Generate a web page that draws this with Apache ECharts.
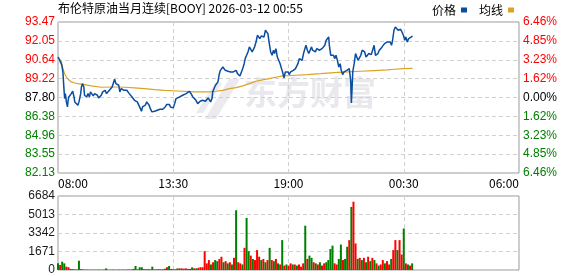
<!DOCTYPE html>
<html><head><meta charset="utf-8">
<script src="https://cdn.jsdelivr.net/npm/echarts@6/dist/echarts.min.js"></script>
<style>html,body{margin:0;padding:0;background:#fff}#c{width:578px;height:276px}</style>
</head><body><div id="c"></div>
<script>
const titleText = '布伦特原油当月连续[BOOY] 2026-03-12 00:55';
const legendNames = ['价格', '均线'];
const timeTicks = ['08:00', '13:30', '19:00', '00:30', '06:00'];
const priceTicks = ['82.13', '83.55', '84.96', '86.38', '87.80', '89.22', '90.64', '92.05', '93.47'];
const pctTicks = ['6.46', '4.85', '3.23', '1.62', '0.00', '1.62', '3.23', '4.85', '6.46'];
const volTicks = ['0', '1671', '3342', '5013', '6684'];

// [minutes since 08:00, price]
const price = [
[0,90.84],[5,90.59],[8,90.47],[11,90.22],[14,89.72],[17,88.47],[19,87.72],[21,88.09],[24,87.47],[27,87.09],
[29,87.59],[31,87.84],[34,87.72],[38,88.09],[42,88.27],[46,87.84],[48,87.47],[51,87.59],[53,87.47],[57,87.22],
[60,87.47],[63,87.34],[65,88.09],[67,88.59],[70,88.84],[73,88.97],[74,88.59],[76,87.97],[79,88.09],[82,87.84],
[86,88.09],[90,87.84],[93,88.22],[97,88.09],[101,87.92],[105,88.09],[109,88.22],[113,87.97],[116,87.77],[120,87.67],
[124,87.97],[128,88.22],[132,88.09],[135,88.34],[139,88.09],[143,88.22],[147,88.34],[151,88.47],[155,88.59],[158,88.72],
[162,89.17],[166,88.84],[170,88.97],[174,88.72],[177,88.22],[181,88.47],[185,88.52],[189,88.34],[193,88.47],[197,88.34],
[200,88.22],[204,88.09],[208,87.97],[212,87.84],[216,87.77],[219,87.59],[223,87.52],[227,87.47],[231,87.34],[235,87.02],
[239,86.77],[242,87.09],[246,87.09],[250,87.22],[254,87.47],[258,87.52],[261,87.22],[265,86.92],[269,86.72],[273,86.59],
[277,86.77],[280,86.72],[284,86.84],[288,86.92],[292,86.92],[296,86.97],[300,86.92],[303,86.97],[307,87.09],[311,87.27],
[315,87.34],[319,87.27],[322,87.09],[326,87.09],[330,87.02],[334,87.34],[338,87.72],[342,87.77],
[348,87.84],[352,87.77],[357,87.97],[362,87.92],[367,88.09],[371,88.17],[376,88.27],[381,88.09],[386,87.84],[390,87.72],
[395,87.59],[400,87.34],[403,87.27],[407,87.52],[411,87.67],[414,87.59],[418,87.72],[422,87.52],[426,87.67],[430,87.77],
[433,87.67],[437,87.47],[441,87.72],[443,88.22],[447,88.47],[451,88.72],[454,88.84],[458,88.97],[462,89.59],[465,89.84],
[468,89.97],[472,90.09],[475,89.97],[479,89.84],[483,89.97],[487,89.77],[491,89.67],[494,89.72],[498,89.59],[502,89.72],
[506,89.77],[510,89.84],[514,89.59],[517,89.47],[521,89.42],[525,89.47],[529,89.97],[533,90.34],[536,90.72],[540,90.97],
[544,91.22],[548,91.60],[552,91.47],[556,91.22],[559,91.35],[563,91.60],[567,91.97],[571,92.47],[575,92.35],[578,92.22],
[582,92.42],[586,92.52],[590,92.35],[594,92.85],[598,92.97],[601,92.60],[605,91.85],[609,91.22],[613,90.97],[617,91.35],
[620,91.10],[624,91.47],[628,90.84],[632,90.72],[636,90.34],[640,89.97],[643,89.72],[647,89.27],[651,89.72],[655,89.59],
[659,89.72],[662,89.52],[666,89.72],[670,89.59],[674,89.84],[678,89.77],
[680,89.97],[684,90.09],[687,90.34],[691,90.72],[695,90.84],[699,90.59],[703,91.10],[707,91.47],[710,91.72],[714,91.35],
[718,91.10],[722,90.97],[726,91.60],[729,91.35],[733,91.47],[737,91.22],[741,91.47],[745,91.60],[749,91.35],[752,91.27],
[756,91.47],[760,91.60],[764,91.72],[768,92.10],[771,92.22],[775,92.35],[777,91.72],[781,90.97],[785,90.84],[789,90.97],
[792,90.72],[796,90.97],[800,90.59],[804,90.09],[808,90.34],[811,89.84],[815,89.52],[819,89.72],[823,89.59],[827,89.84],
[831,89.84],[834,89.97],[838,89.09],[840,87.39],[842,88.47],[844,89.72],[848,90.34],[852,91.10],[855,90.97],[859,90.59],
[863,90.72],[867,90.97],[871,91.35],[874,91.47],[878,91.22],[882,90.84],[886,90.97],[890,91.10],[894,90.97],[897,91.02],
[901,91.10],[905,91.72],[909,90.97],[913,90.84],[916,91.10],[920,91.35],[924,91.47],[928,91.60],[932,91.72],[935,91.85],
[939,91.85],[943,91.97],[947,92.02],[951,91.97],[955,91.72],[958,92.10],[962,92.85],[966,93.10],[970,93.22],[974,92.85],
[977,92.97],[981,92.92],[985,92.72],[989,92.47],[993,92.10],[996,92.35],[1000,91.97],[1004,92.22],[1008,92.10],[1012,92.35],
[1015,92.42]
];

// [minutes since 08:00, average price]
const avgLine = [
[0,90.84],[10,90.47],[14,89.97],[19,89.59],[24,89.34],[29,89.17],[33,89.02],[38,88.97],[48,88.89],[57,88.84],
[76,88.77],[95,88.67],[124,88.57],[153,88.59],[172,88.59],[191,88.57],[219,88.52],[248,88.47],[277,88.39],[305,88.34],
[342,88.29],[395,88.22],[433,88.22],[452,88.27],[472,88.34],[491,88.47],[510,88.54],[529,88.67],[548,88.84],[567,89.02],
[586,89.12],[605,89.22],[624,89.32],[643,89.42],[662,89.44],[681,89.47],[714,89.52],[752,89.59],[790,89.67],[829,89.72],
[867,89.77],[905,89.82],[943,89.87],[962,89.92],[991,89.97],[1015,89.99]
];

// volume sampled every 6 minutes from 08:00
const volStep = 6;
const volumes = [
600,450,750,600,300,250,100,80,60,50,
840,80,50,40,40,30,30,30,30,40,
30,30,40,150,30,30,40,30,30,40,
30,40,30,40,50,40,100,360,60,250,
250,80,60,80,60,300,60,60,80,60,
60,120,250,360,100,80,60,150,150,150,
120,150,100,100,240,150,150,200,250,250,
1700,600,900,500,700,900,800,1000,1200,700,
800,600,700,500,1100,5400,700,600,500,2000,
4700,1700,1300,1000,900,1800,1200,900,1000,700,
900,2000,900,800,1000,600,500,2700,400,500,
400,600,500,500,400,500,300,600,4000,1000,
1300,1100,700,600,500,700,400,600,700,900,
1900,2200,600,500,1000,2300,900,1000,2100,2700,
5700,6170,2400,1000,1100,900,1100,700,1200,800,
1100,900,600,400,500,900,600,800,500,1000,
1800,2700,1800,2700,1400,3750,600,500,400,600
];
// 1 = price up in that interval, -1 = down
const volDir = [
-1,1,-1,-1,1,1,1,-1,1,1,
-1,1,1,-1,1,1,-1,1,1,-1,
1,1,-1,-1,1,1,-1,1,1,-1,
1,1,-1,1,1,-1,1,-1,1,-1,
-1,1,1,-1,1,-1,1,1,1,-1,
1,-1,1,-1,1,1,1,-1,1,1,
-1,1,-1,1,-1,1,-1,1,1,1,
1,1,1,-1,1,-1,-1,1,1,-1,
1,-1,1,-1,1,-1,1,1,-1,1,
-1,-1,1,-1,1,1,1,-1,1,-1,
1,-1,1,-1,1,-1,1,-1,1,-1,
1,1,-1,1,-1,1,1,1,-1,1,
-1,-1,1,-1,1,-1,1,1,-1,-1,
-1,-1,1,1,-1,-1,1,-1,-1,1,
-1,1,1,-1,1,-1,1,-1,1,-1,
1,-1,1,-1,1,1,-1,1,1,-1,
1,1,-1,1,1,-1,1,-1,1,-1
];

const RED = '#ff0000', GREEN = '#008000', BLUE = '#0b4d9e', GOLD = '#dba224';
const FONT_NUM = '"Liberation Sans", Arial, sans-serif';
const FONT_CJK = '"Noto Sans CJK SC", sans-serif';
const dash = { color: '#d0d0d0', type: [4, 3], width: 1 };
const mid = (priceTicks.length - 1) / 2;
const sideColor = v => { const i = Number(v); return i > mid ? RED : (i < mid ? GREEN : '#000'); };

const volData = volumes.map((v, i) => [i * volStep, v]);

const chart = echarts.init(document.getElementById('c'), null, { renderer: 'canvas' });
chart.setOption({
  animation: false,
  title: { text: titleText, left: 58, top: 2, padding: 0,
    textStyle: { fontSize: 12, fontWeight: 'normal', color: '#000', fontFamily: FONT_CJK } },
  legend: { right: 64, top: 4, padding: 0, align: 'right', itemWidth: 6, itemHeight: 5, itemGap: 12,
    textStyle: { fontSize: 12, color: '#000', fontFamily: FONT_CJK },
    data: legendNames.map(n => ({ name: n, icon: 'rect' })) },
  graphic: [
    { type: 'polygon', silent: true, z: 0, shape: { points: [[205,119],[216,119],[240,79],[229,79]] }, style: { fill: '#ebebef' } },
    { type: 'polygon', silent: true, z: 0, shape: { points: [[196,113],[203,113],[222,83],[215,83]] }, style: { fill: '#ebebef' } },
    { type: 'text', silent: true, z: 0, left: 244, top: 76,
      style: { text: '东方财富', fill: '#e8e8ed', font: 'bold 33px "Noto Sans CJK SC", sans-serif' } }
  ],
  grid: [
    { left: 58, right: 59, top: 22, height: 151, show: true, borderColor: '#999', borderWidth: 1 },
    { left: 58, right: 59, top: 196, height: 74, show: true, borderColor: '#999', borderWidth: 1 }
  ],
  xAxis: [
    { type: 'value', gridIndex: 0, min: 0, max: 1320, interval: 330,
      axisLine: { show: false }, axisTick: { show: false }, splitLine: { show: true, lineStyle: dash },
      axisLabel: { margin: 4, fontSize: 12, color: '#000', fontFamily: FONT_CJK,
        formatter: v => timeTicks[Math.round(v / 330)], alignMinLabel: 'left', alignMaxLabel: 'right' } },
    { type: 'value', gridIndex: 1, min: 0, max: 1320, interval: 330,
      axisLine: { show: false }, axisTick: { show: false }, splitLine: { show: true, lineStyle: dash },
      axisLabel: { show: false } }
  ],
  yAxis: [
    { type: 'value', gridIndex: 0, min: 0, max: priceTicks.length - 1, interval: 1, position: 'left',
      axisLine: { show: false }, axisTick: { show: false }, splitLine: { show: true, lineStyle: dash },
      axisLabel: { margin: 3, fontSize: 12, fontFamily: FONT_NUM, formatter: v => priceTicks[v], color: sideColor } },
    { type: 'value', gridIndex: 0, min: 0, max: pctTicks.length - 1, interval: 1, position: 'right',
      axisLine: { show: false }, axisTick: { show: false }, splitLine: { show: false },
      axisLabel: { margin: 4, fontSize: 12, fontFamily: FONT_NUM, formatter: v => pctTicks[v] + '%', color: sideColor } },
    { type: 'value', gridIndex: 0, min: Number(priceTicks[0]), max: Number(priceTicks[priceTicks.length - 1]), show: false },
    { type: 'value', gridIndex: 1, min: 0, max: volTicks.length - 1, interval: 1, position: 'left',
      axisLine: { show: false }, axisTick: { show: false }, splitLine: { show: true, lineStyle: dash },
      axisLabel: { margin: 3, fontSize: 12, fontFamily: FONT_NUM, color: '#1a1a1a', formatter: v => volTicks[v] } },
    { type: 'value', gridIndex: 1, min: 0, max: Number(volTicks[volTicks.length - 1]), show: false }
  ],
  series: [
    { name: legendNames[0], type: 'line', xAxisIndex: 0, yAxisIndex: 2, data: price, showSymbol: false,
      lineStyle: { color: BLUE, width: 1.5 }, itemStyle: { color: BLUE }, z: 5 },
    { name: legendNames[1], type: 'line', xAxisIndex: 0, yAxisIndex: 2, data: avgLine, showSymbol: false,
      lineStyle: { color: GOLD, width: 1.2 }, itemStyle: { color: GOLD }, z: 4 },
    { type: 'bar', xAxisIndex: 1, yAxisIndex: 4, data: volData, barWidth: 2,
      itemStyle: { color: p => volDir[p.dataIndex] > 0 ? RED : GREEN } }
  ]
});
</script>
</body></html>
